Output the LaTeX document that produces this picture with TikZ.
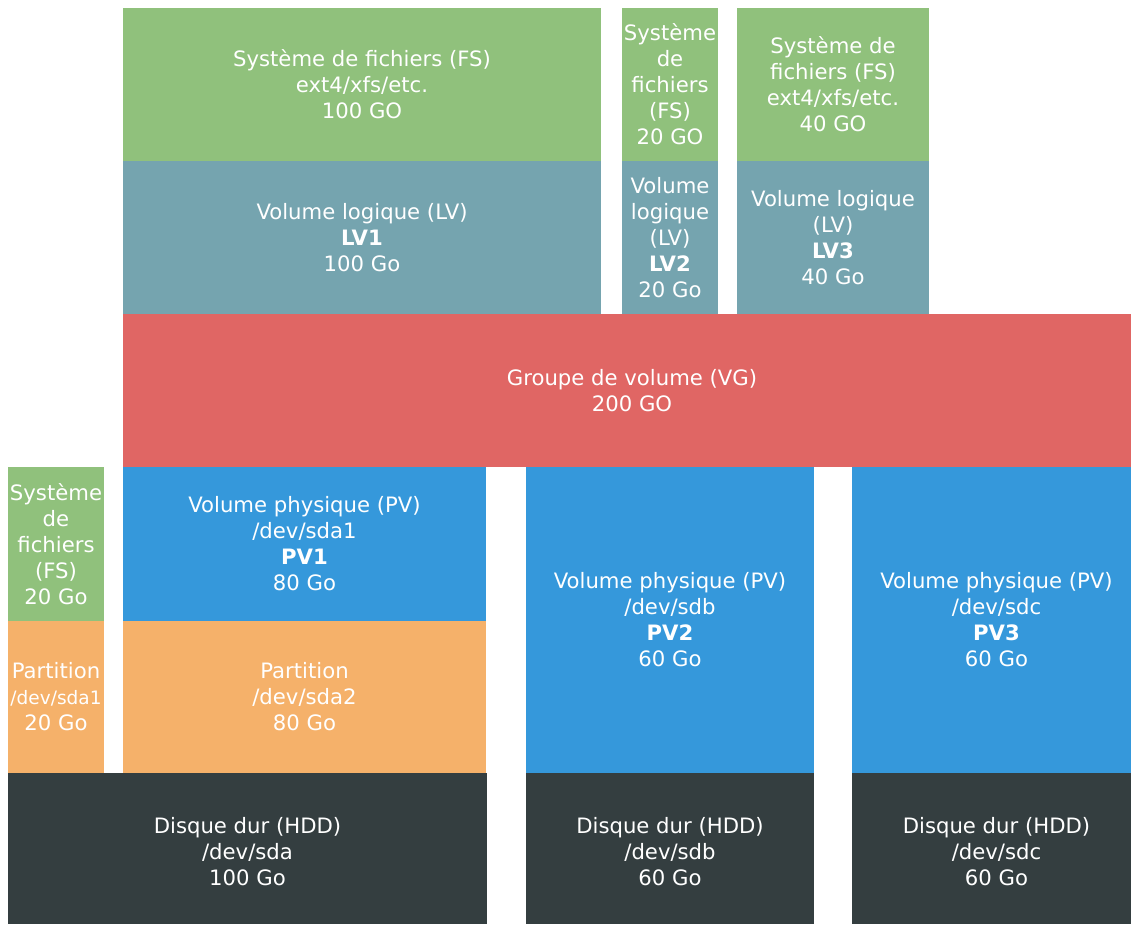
\documentclass[tikz,border=0pt]{standalone}
\usepackage{fontspec}
\setmainfont{DejaVu Sans}
\definecolor{fsgreen}{HTML}{90C17C}
\definecolor{lvteal}{HTML}{75A4AF}
\definecolor{vgred}{HTML}{E06664}
\definecolor{pvblue}{HTML}{3598DB}
\definecolor{partorange}{HTML}{F5B16A}
\definecolor{hdddark}{HTML}{343E40}
\tikzset{
  block/.style={anchor=north west, inner sep=0pt, outer sep=0pt, draw=none,
    text=white, align=center, font=\fontsize{21.2}{26}\selectfont},
  fs/.style={block, fill=fsgreen},
  lv/.style={block, fill=lvteal},
  vg/.style={block, fill=vgred},
  pv/.style={block, fill=pvblue},
  part/.style={block, fill=partorange},
  hdd/.style={block, fill=hdddark},
}
% place a block from its top-left corner (x,y) with width w and height h
\newcommand{\blk}[7]{\node[#1, minimum width=#5pt, minimum height=#6pt] (#2) at (#3pt,-#4pt) {#7};}
% taller first line so the disk labels sit a little lower
\newcommand{\lowstrut}{\rule{0pt}{22pt}}
\begin{document}
\begin{tikzpicture}
\useasboundingbox (0pt,0pt) rectangle (1131pt,-924pt);
% file systems
\blk{fs}{fsA}{123}{8}{478}{153}{Système de fichiers (FS)\\ext4/xfs/etc.\\100 GO}
\blk{fs}{fsB}{622}{8}{96}{153}{Système\\de\\fichiers\\(FS)\\20 GO}
\blk{fs}{fsC}{737}{8}{192}{153}{Système de\\fichiers (FS)\\ext4/xfs/etc.\\40 GO}
% logical volumes
\blk{lv}{lvA}{123}{161}{478}{153}{Volume logique (LV)\\\textbf{LV1}\\100 Go}
\blk{lv}{lvB}{622}{161}{96}{153}{Volume\\logique\\(LV)\\\textbf{LV2}\\20 Go}
\blk{lv}{lvC}{737}{161}{192}{153}{Volume logique\\(LV)\\\textbf{LV3}\\40 Go}
% volume group (runs past the right edge of the page)
\blk{vg}{vg}{123}{314}{1018}{153}{Groupe de volume (VG)\\200 GO}
% physical volumes
\blk{pv}{pvA}{123}{467}{363}{154}{Volume physique (PV)\\/dev/sda1\\\textbf{PV1}\\80 Go}
\blk{pv}{pvB}{526}{467}{288}{306}{Volume physique (PV)\\/dev/sdb\\\textbf{PV2}\\60 Go}
\blk{pv}{pvC}{852}{467}{289}{306}{Volume physique (PV)\\/dev/sdc\\\textbf{PV3}\\60 Go}
% plain file system on the first partition
\blk{fs}{fsD}{8}{467}{96}{154}{Système\\de\\fichiers\\(FS)\\20 Go}
% partitions
\blk{part}{partA}{8}{621}{96}{152}{Partition\\{\fontsize{18.5}{26}\selectfont/dev/sda1}\\20 Go}
\blk{part}{partB}{123}{621}{363}{152}{Partition\\/dev/sda2\\80 Go}
% hard disks
\blk{hdd}{hddA}{8}{773}{479}{151}{\lowstrut Disque dur (HDD)\\/dev/sda\\100 Go}
\blk{hdd}{hddB}{526}{773}{288}{151}{\lowstrut Disque dur (HDD)\\/dev/sdb\\60 Go}
\blk{hdd}{hddC}{852}{773}{289}{151}{\lowstrut Disque dur (HDD)\\/dev/sdc\\60 Go}
\end{tikzpicture}
\end{document}
